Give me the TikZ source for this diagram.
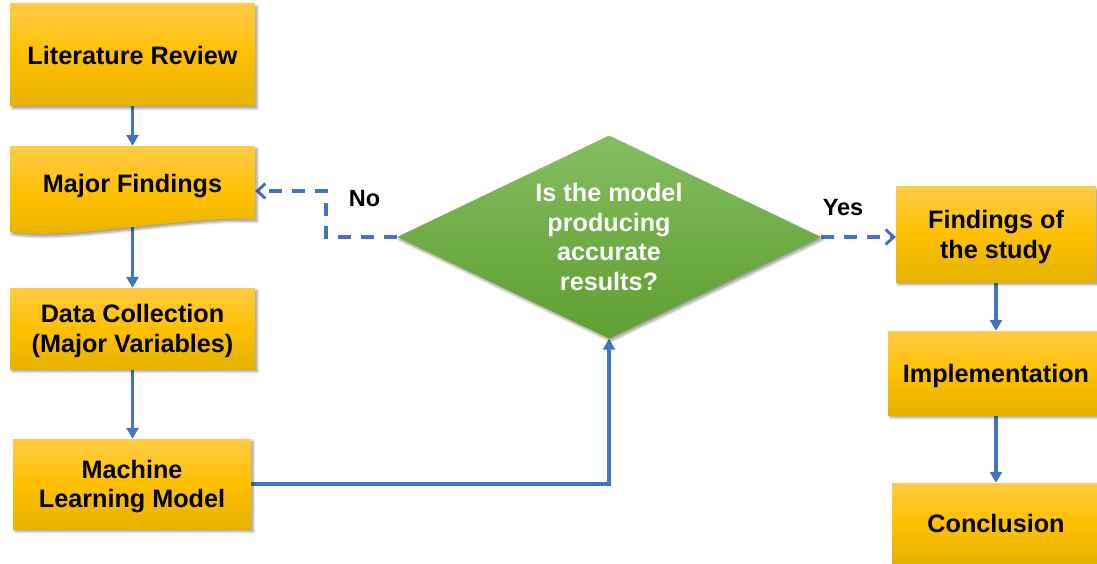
\documentclass[tikz,border=0pt]{standalone}
\usepackage{fontspec}
\setmainfont{Liberation Sans}
\usetikzlibrary{shapes.geometric,arrows.meta,shadows.blur}

\definecolor{linkblue}{RGB}{68,114,196}
\definecolor{boxtop}{RGB}{255,203,70}
\definecolor{boxmid}{RGB}{255,192,0}
\definecolor{boxbot}{RGB}{229,178,0}
\definecolor{dectop}{RGB}{134,190,98}
\definecolor{decmid}{RGB}{112,173,71}
\definecolor{decbot}{RGB}{96,160,50}

\newcommand{\flowfont}{\fontsize{25.2}{29.5}\selectfont\bfseries}
\newcommand{\labelfont}{\fontsize{23.5}{27}\selectfont\bfseries}

\pgfdeclarelayer{connectors}
\pgfsetlayers{connectors,main}

\begin{document}
\begin{tikzpicture}[x=1pt,y=-1pt,
  softshadow/.style={blur shadow={shadow xshift=2pt,shadow yshift=-2.5pt,
      shadow blur radius=2.5pt,shadow blur steps=6,shadow opacity=40}},
  goldfill/.style={top color=boxtop,bottom color=boxbot,middle color=boxmid},
  stepbox/.style={rectangle,goldfill,softshadow,align=center,
      font=\flowfont,inner sep=0pt,text depth=0pt},
  decision/.style={diamond,top color=dectop,bottom color=decbot,middle color=decmid,
      softshadow,align=center,font=\flowfont,text=white,inner sep=0pt,aspect=2.09},
  flow/.style={draw=linkblue,line width=3.3pt,-{Triangle[length=11pt,width=12pt]}},
  choice/.style={draw=linkblue,line width=3.3pt,dash pattern=on 13pt off 10pt,
      -{Straight Barb[length=8pt,width=15pt,line width=3pt]}},
  tag/.style={font=\labelfont,inner sep=0pt}]

\useasboundingbox (0,0) rectangle (1097,564);

% left column
\node[stepbox,minimum width=245pt,minimum height=102pt] (lit) at (132.5,55)
  {Literature Review};

% document-shaped box with a wavy lower edge
\path[goldfill,softshadow] (10,146) -- (255,146) -- (255,219)
  .. controls (180,216) and (70,241) .. (10,232) -- cycle;
\node[font=\flowfont,inner sep=0pt,text depth=0pt,minimum width=245pt,
  minimum height=74pt] (mf) at (132.5,183) {Major Findings};
\coordinate (mfwave) at (132.5,226);

\node[stepbox,minimum width=245pt,minimum height=81pt] (dc) at (132.5,328.5)
  {Data Collection\\(Major Variables)};
\node[stepbox,minimum width=238pt,minimum height=90pt] (ml) at (132,484)
  {Machine\\Learning Model};

% decision
\node[decision,minimum width=424pt,minimum height=203pt] (dia) at (609,237)
  {Is the model\\producing\\accurate\\results?};

% right column
\node[stepbox,minimum width=200pt,minimum height=95pt] (fs) at (996,234.5)
  {Findings of\\the study};
\node[stepbox,minimum width=216pt,minimum height=84pt] (im) at (996,373)
  {Implementation};
\node[stepbox,minimum width=208pt,minimum height=80pt] (co) at (996,523)
  {Conclusion};

% answer labels
\node[tag] (no) at (364.5,199) {No};
\node[tag] (yes) at (843,208) {Yes};

\coordinate (nobend) at (326,191);

\begin{pgfonlayer}{connectors}
  \draw[flow] (lit.south) -- (mf.north);
  \draw[flow] (mfwave) -- (dc.north);
  \draw[flow] (dc.south) -- (dc.south |- ml.north);
  \draw[flow] (ml.east) -| (dia.south);
  \draw[choice] (dia.west) -| (nobend) -- (nobend -| mf.east);
  \draw[choice] (dia.east) -- (dia.east -| fs.west);
  \draw[flow] (fs.south) -- (im.north);
  \draw[flow] (im.south) -- (co.north);
\end{pgfonlayer}
\end{tikzpicture}
\end{document}
